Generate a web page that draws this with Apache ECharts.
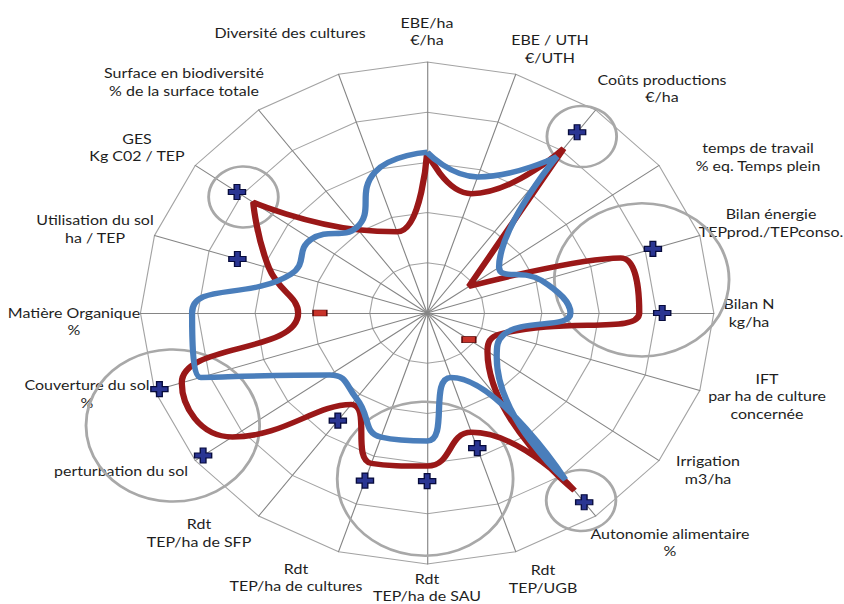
<!DOCTYPE html>
<html lang="fr">
<head>
<meta charset="UTF-8">
<title>Radar indicateurs</title>
<style>
  body { margin: 0; background: #fff; overflow: hidden; }
  /* the original picture is stretched horizontally, so is this one */
  #chart { width: 739px; height: 604px; transform: scaleX(1.1421); transform-origin: 0 0; }
</style>
</head>
<body>
<div id="chart"></div>
<script src="https://cdn.jsdelivr.net/npm/echarts@6.0.0/dist/echarts.min.js"></script>
<script>
  const STRETCH = 1.1421;

  // axes, clockwise from the top
  const axisNames = [
    'EBE/ha\n€/ha',
    'EBE / UTH\n€/UTH',
    'Coûts productions\n€/ha',
    'temps de travail\n% eq. Temps plein',
    'Bilan énergie\nTEPprod./TEPconso.',
    'Bilan N\nkg/ha',
    'IFT\npar ha de culture\nconcernée',
    'Irrigation\nm3/ha',
    'Autonomie alimentaire\n%',
    'Rdt\nTEP/UGB',
    'Rdt\nTEP/ha de SAU',
    'Rdt\nTEP/ha de cultures',
    'Rdt\nTEP/ha de SFP',
    'perturbation du sol',
    'Couverture du sol\n%',
    'Matière Organique\n%',
    'Utilisation du sol\nha / TEP',
    'GES\nKg C02 / TEP',
    'Surface en biodiversité\n% de la surface totale',
    'Diversité des cultures'
  ];

  const redValues = [3.2, 2.5, 4.05, 0.9, 3.55, 3.7, 1.35, 1.3, 4.37, 2.5,
                     3.05, 3.15, 2.25, 4.2, 4.5, 2.25, 2.9, 3.75, 2.05, 1.7];
  const blueValues = [3.2, 2.85, 3.85, 1.55, 2.1, 2.5, 1.4, 1.5, 4.1, 1.35,
                      2.55, 2.6, 2.1, 2.1, 4.15, 4.1, 2.5, 2.5, 2.1, 2.95];

  // "+" and "-" marks: axis index and value
  const plusAxes = [2, 4, 5, 8, 9, 10, 11, 12, 13, 14, 16, 17];
  const plusValues = [4.45, 4.14, 4.1, 4.66, 2.83, 3.35, 3.51, 2.65, 4.83, 4.91, 3.48, 4.1];
  const minusAxes = [15, 7];
  const minusValues = [1.87, 0.9];

  // grey circles: value, angle (deg, clockwise from top), diameter
  const circleValues = [4.43, 3.8, 3.95, 4.97, 3.3, 4.6];
  const circleAngles = [37.5, 80, 305.8, 243.2, 180.6, 144.3];
  const circleDiameters = [61, 153, 61, 152, 154, 61];

  // label centres in page pixels
  const labelPos = [
    [427, 31], [550, 48.5], [662, 88], [758, 156.5], [771, 222.5],
    [749, 312.5], [767, 395.5], [708, 469.5], [670, 542], [543, 578.5],
    [427, 587], [296, 577], [199, 532.5], [121, 470], [87, 393.5],
    [74, 321], [95, 228.5], [137, 147], [184, 81.5], [290, 32]
  ];

  const step = 360 / axisNames.length;

  function loop(values) {
    const pts = values.map((v, i) => [v, i * step]);
    pts.push([values[0], 360]);
    return pts;
  }

  const chart = echarts.init(document.getElementById('chart'), null, { renderer: 'svg' });

  const option = {
    animation: false,
    radar: {
      center: [374, 313],
      radius: 251,
      startAngle: 90,
      shape: 'polygon',
      splitNumber: 5,
      indicator: axisNames.map(n => ({ name: n, max: 5 })),
      axisName: { show: false },
      axisLine: { lineStyle: { color: '#858585', width: 1 } },
      splitLine: { lineStyle: { color: '#a3a3a3', width: 1 } },
      splitArea: { show: false }
    },
    polar: { center: [374, 313], radius: 251 },
    angleAxis: { type: 'value', min: 0, max: 360, startAngle: 90, show: false },
    radiusAxis: { type: 'value', min: 0, max: 5, show: false },
    graphic: axisNames.map((n, i) => ({
      type: 'text',
      x: labelPos[i][0] / STRETCH,
      y: labelPos[i][1],
      style: {
        text: n,
        fill: '#1e1e1e',
        fontFamily: 'Lato',
        fontSize: 14,
        lineHeight: 17.5,
        align: 'center',
        verticalAlign: 'middle'
      }
    })),
    series: [
      {
        type: 'scatter',
        coordinateSystem: 'polar',
        symbol: 'circle',
        silent: true,
        z: 1,
        itemStyle: { color: 'rgba(0,0,0,0)', borderColor: '#a8a8a8', borderWidth: 2.5, opacity: 1 },
        data: circleValues.map((v, i) => ({ value: [v, circleAngles[i]], symbolSize: circleDiameters[i] }))
      },
      {
        type: 'line',
        coordinateSystem: 'polar',
        smooth: 0.5,
        symbol: 'none',
        z: 3,
        lineStyle: { color: '#9a1818', width: 5.5 },
        data: loop(redValues)
      },
      {
        type: 'line',
        coordinateSystem: 'polar',
        smooth: 0.5,
        symbol: 'none',
        z: 4,
        lineStyle: { color: '#4a7ebb', width: 5.5 },
        data: loop(blueValues)
      },
      {
        type: 'scatter',
        coordinateSystem: 'polar',
        symbol: 'path://M4,0H8V4H12V8H8V12H4V8H0V4H4Z',
        symbolSize: [15, 15],
        z: 5,
        itemStyle: { color: '#2a3592', borderColor: '#070b3c', borderWidth: 1.2, opacity: 1 },
        data: plusAxes.map((a, i) => [plusValues[i], a * step])
      },
      {
        type: 'scatter',
        coordinateSystem: 'polar',
        symbol: 'rect',
        symbolSize: [12, 6],
        z: 5,
        itemStyle: { color: '#c8332a', borderColor: '#5c0c0c', borderWidth: 1, opacity: 1 },
        data: minusAxes.map((a, i) => [minusValues[i], a * step])
      }
    ]
  };

  chart.setOption(option);
</script>
</body>
</html>
